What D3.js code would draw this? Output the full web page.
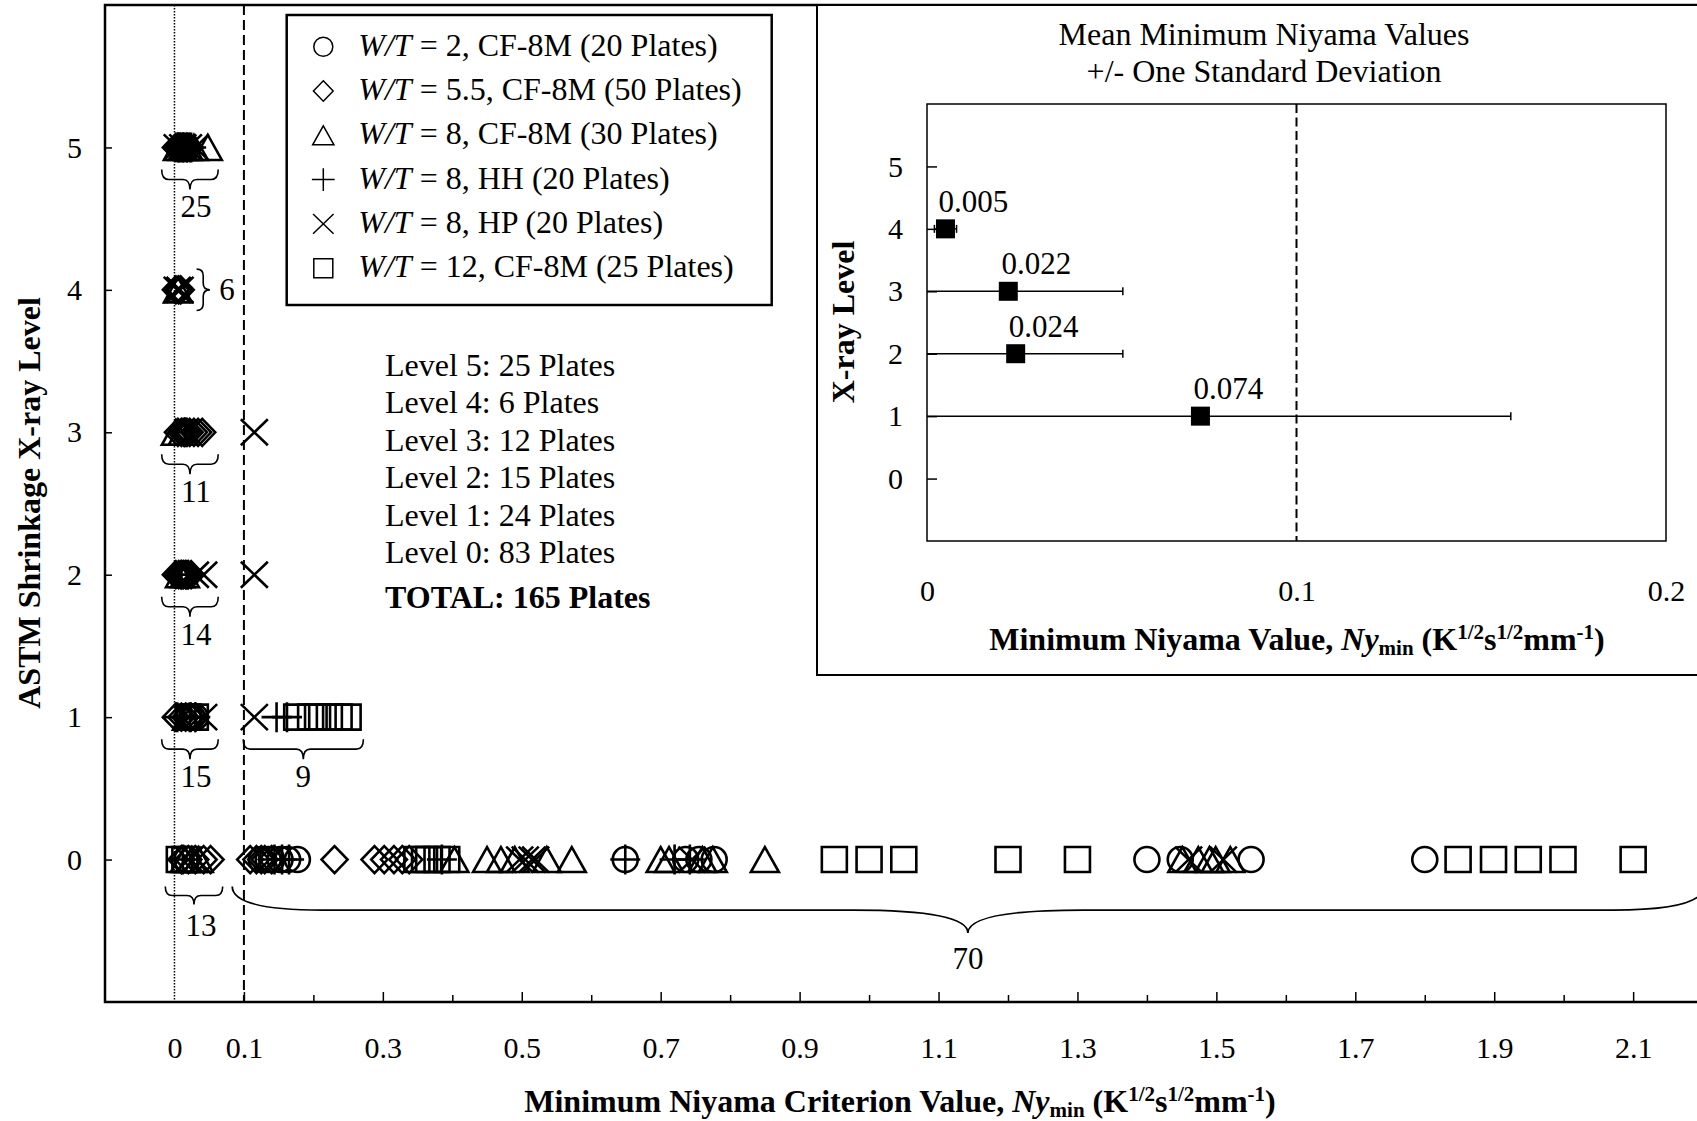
<!DOCTYPE html>
<html><head><meta charset="utf-8">
<script src="https://cdn.jsdelivr.net/npm/d3@7"></script>
<style>
body{margin:0;background:#fff;}
svg{display:block;}
text{font-family:"Liberation Serif","Times New Roman",serif;fill:#000;}
</style>
</head><body>
<svg id="chart" width="1697" height="1121"></svg>
<script>
// ---------------- DATA ----------------
// each point: [minimum Niyama value, ASTM X-ray level]
const wt2_CF8M = [ // circles (20)
  [0.012,5],[0.014,2],[0.02,1],[0.025,1],[0.03,1],
  [0.018,0],[0.125,0],[0.135,0],[0.14,0],[0.152,0],[0.163,0],[0.177,0],
  [0.649,0],[0.736,0],[0.755,0],[0.777,0],[1.40,0],[1.448,0],[1.55,0],[1.80,0]
];
const wt55_CF8M = [ // diamonds (50)
  [0.002,5],[0.004,5],[0.006,5],[0.008,5],[0.009,5],[0.011,5],[0.013,5],[0.015,5],[0.017,5],[0.019,5],[0.022,5],
  [0.002,4],[0.006,4],[0.009,4],
  [0.005,3],[0.01,3],[0.014,3],[0.018,3],[0.022,3],[0.028,3],[0.034,3],[0.04,3],
  [0.002,2],[0.006,2],[0.01,2],[0.013,2],[0.016,2],[0.02,2],[0.024,2],
  [0.002,1],[0.01,1],[0.016,1],[0.024,1],[0.03,1],
  [0.01,0],[0.02,0],[0.03,0],[0.042,0],[0.052,0],[0.109,0],[0.118,0],[0.125,0],[0.13,0],[0.14,0],
  [0.2305,0],[0.288,0],[0.302,0],[0.316,0],[0.328,0],[0.338,0]
];
const wt8_CF8M = [ // triangles (30)
  [0.005,5],[0.012,5],[0.02,5],[0.028,5],[0.048,5],
  [0.005,4],
  [0.002,3],[0.012,3],
  [0.008,2],[0.015,2],
  [0.018,1],
  [0.015,0],[0.025,0],[0.035,0],[0.403,0],[0.45,0],[0.47,0],[0.49,0],[0.536,0],[0.572,0],
  [0.70,0],[0.712,0],[0.76,0],[0.775,0],[0.85,0],[1.451,0],[1.474,0],[1.49,0],[1.499,0],[1.52,0]
];
const wt8_HH = [ // plus (20)
  [0.006,5],[0.012,5],[0.018,5],[0.024,5],
  [0.015,3],
  [0.01,2],[0.018,2],
  [0.004,1],[0.022,1],[0.03,1],[0.147,1],[0.162,1],
  [0.012,0],[0.144,0],[0.155,0],[0.165,0],[0.385,0],[0.649,0],[0.72,0],[0.742,0]
];
const wt8_HP = [ // x (20)
  [0.004,5],[0.012,5],[0.02,5],[0.03,5],
  [0.004,4],[0.008,4],
  [0.115,3],
  [0.03,2],[0.042,2],[0.115,2],
  [0.042,1],[0.115,1],
  [0.02,0],[0.497,0],[0.505,0],[0.515,0],[0.52,0],[0.745,0],[1.46,0],[1.51,0]
];
const wt12_CF8M = [ // squares (25)
  [0.02,1],[0.03,1],[0.176,1],[0.196,1],[0.206,1],[0.223,1],[0.237,1],[0.25,1],
  [0.007,0],[0.015,0],[0.349,0],[0.36,0],[0.366,0],[0.378,0],[0.392,0],
  [0.95,0],[1.0,0],[1.05,0],[1.2,0],[1.3,0],[1.848,0],[1.899,0],[1.949,0],[1.999,0],[2.1,0]
];
const seriesLegendValue = ["2","5.5","8","8","8","12"];
const seriesLegendAlloy = ["CF-8M","CF-8M","CF-8M","HH","HP","CF-8M"];
const seriesLegendPlates = [20,50,30,20,20,25];

const yLevelTicks = [0,1,2,3,4,5];
const xMajorTicks = [0.1,0.3,0.5,0.7,0.9,1.1,1.3,1.5,1.7,1.9,2.1];
const xMinorTicks = [0.2,0.4,0.6,0.8,1.0,1.2,1.4,1.6,1.8,2.0,2.2];
const xTickLabels = [0,0.1,0.3,0.5,0.7,0.9,1.1,1.3,1.5,1.7,1.9,2.1];

const summaryLevels = [5,4,3,2,1,0];
const summaryCounts = [25,6,12,15,24,83];
const summaryTotal = 165;

// group braces: [level, from, to, count]
const braceGroups = [[5,-0.0184,0.063,"25"],[3,-0.0184,0.063,"11"],[2,-0.0184,0.063,"14"],[1,-0.0184,0.063,"15"],[1,0.099,0.272,"9"]];
const braceLevel0Low = [0,-0.0132,0.0694,"13"];
const braceLevel0High = [0,0.0832,2.2015,"70"];
const braceLevel4 = [4,0.0319,"6"];

// inset
const insetLevels = [4,3,2,1];
const insetMeans = [0.005,0.022,0.024,0.074];
const insetStdDev = [0.003,0.031,0.029,0.084];
const insetXTicks = [0,0.1,0.2];
const insetYTicks = [0,1,2,3,4,5];

// ---------------- DRAW ----------------
const svg = d3.select("#chart");
const x = d3.scaleLinear().domain([-0.1,2.2]).range([105,1702.6]);
const y = d3.scaleLinear().domain([-1,6]).range([1002,5]);

function shapePath(shape, k){
  const s = k||1;
  switch(shape){
    case "square": {const h=12.5*s; return `M${-h},${-h}H${h}V${h}H${-h}Z`;}
    case "diamond": {const w=13*s,v=13.5*s; return `M0,${-v}L${w},0L0,${v}L${-w},0Z`;}
    case "triangle": {const w=14*s,t=12.5*s; return `M0,${-t}L${w},${t}L${-w},${t}Z`;}
    case "plus": {const a=15*s; return `M${-a},0H${a}M0,${-a}V${a}`;}
    case "x": {const a=13.5*s,b=13*s; return `M${-a},${-b}L${a},${b}M${-a},${b}L${a},${-b}`;}
    case "circle": {const r=12.5*s; return `M${r},0A${r},${r},0,1,1,${-r},0A${r},${r},0,1,1,${r},0Z`;}
  }
}
const shapes = ["circle","diamond","triangle","plus","x","square"];
const allSeries = [wt2_CF8M, wt55_CF8M, wt8_CF8M, wt8_HH, wt8_HP, wt12_CF8M];

// reference lines
svg.append("line").attr("x1",x(0)).attr("x2",x(0)).attr("y1",y(6)).attr("y2",y(-1))
  .attr("stroke","#000").attr("stroke-width",1.5).attr("stroke-dasharray","1.5,1.5");
svg.append("line").attr("x1",x(0.1)).attr("x2",x(0.1)).attr("y1",y(6)).attr("y2",y(-1))
  .attr("stroke","#000").attr("stroke-width",2).attr("stroke-dasharray","10,5");

// axes ticks
const gx1 = svg.append("g").attr("transform",`translate(0,${y(-1)})`)
  .call(d3.axisBottom(x).tickValues(xMajorTicks).tickSize(-10).tickFormat(""));
const gx2 = svg.append("g").attr("transform",`translate(0,${y(-1)})`)
  .call(d3.axisBottom(x).tickValues(xMinorTicks).tickSize(-7).tickFormat(""));
const gx3 = svg.append("g").attr("transform",`translate(0,${y(-1)})`)
  .call(d3.axisBottom(x).tickValues(xTickLabels).tickSize(0).tickPadding(35).tickFormat(d=>String(d)));
const gy = svg.append("g").attr("transform",`translate(${x(-0.1)},0)`)
  .call(d3.axisLeft(y).tickValues(yLevelTicks).tickSize(-7).tickPadding(23).tickFormat(d=>String(d)));
[gx1,gx2,gx3,gy].forEach(g=>{
  g.select(".domain").remove();
  g.selectAll("line").attr("stroke","#000").attr("stroke-width",1.5);
  g.attr("font-family",null).attr("font-size",30);
  g.selectAll("text").attr("fill","#000").attr("font-size",30);
});

// frame
svg.append("rect").attr("x",x(-0.1)).attr("y",y(6)).attr("width",x(2.2)-x(-0.1)).attr("height",y(-1)-y(6))
  .attr("fill","none").attr("stroke","#000").attr("stroke-width",2.5);

// markers
allSeries.forEach((data,i)=>{
  svg.append("g").selectAll("path").data(data).join("path")
    .attr("d",shapePath(shapes[i]))
    .attr("transform",d=>`translate(${x(d[0])},${y(d[1])})`)
    .attr("fill","none").attr("stroke","#000").attr("stroke-width",2.6)
    .attr("stroke-linejoin","miter");
});

// braces
function bracePath(x0,x1,yTop,yMid,yTip,rEnd,rTip){
  const xm=(x0+x1)/2;
  return `M${x0},${yTop}Q${x0},${yMid} ${x0+rEnd},${yMid}L${xm-rTip},${yMid}Q${xm},${yMid} ${xm},${yTip}`+
         `Q${xm},${yMid} ${xm+rTip},${yMid}L${x1-rEnd},${yMid}Q${x1},${yMid} ${x1},${yTop}`;
}
const braceG = svg.append("g");
braceGroups.forEach(b=>{
  const yl=y(b[0]), x0=x(b[1]), x1=x(b[2]);
  braceG.append("path").attr("d",bracePath(x0,x1,yl+22,yl+32,yl+42,7,7))
    .attr("fill","none").attr("stroke","#000").attr("stroke-width",1.6);
  braceG.append("text").attr("x",(x0+x1)/2+(b[1]<0?6:0)).attr("y",yl+70)
    .attr("text-anchor","middle").attr("font-size",31).text(b[3]);
});
{
  const b=braceLevel0Low, yl=y(b[0]), x0=x(b[1]), x1=x(b[2]);
  braceG.append("path").attr("d",bracePath(x0,x1,yl+27,yl+36,yl+45,7,7))
    .attr("fill","none").attr("stroke","#000").attr("stroke-width",1.6);
  braceG.append("text").attr("x",(x0+x1)/2+7).attr("y",yl+76.5)
    .attr("text-anchor","middle").attr("font-size",31).text(b[3]);
}
{
  const b=braceLevel0High, yl=y(b[0]), x0=x(b[1]), x1=x(b[2]);
  braceG.append("path").attr("d",bracePath(x0,x1,yl+27,yl+50.5,yl+73.5,90,115))
    .attr("fill","none").attr("stroke","#000").attr("stroke-width",1.8);
  braceG.append("text").attr("x",(x0+x1)/2).attr("y",yl+109.5)
    .attr("text-anchor","middle").attr("font-size",31).text(b[3]);
}
{
  const b=braceLevel4, yl=y(b[0]), xe=x(b[1]), xc=xe+6.6, xt=xe+13.3, h=20.7, r=6.5;
  const p=`M${xe},${yl-h}Q${xc},${yl-h} ${xc},${yl-h+r}L${xc},${yl-r}Q${xc},${yl} ${xt},${yl}`+
          `Q${xc},${yl} ${xc},${yl+r}L${xc},${yl+h-r}Q${xc},${yl+h} ${xe},${yl+h}`;
  braceG.append("path").attr("d",p).attr("fill","none").attr("stroke","#000").attr("stroke-width",1.6);
  braceG.append("text").attr("x",xt+17).attr("y",yl+10.5).attr("text-anchor","middle").attr("font-size",31).text(b[2]);
}

// axis titles
function nyTitle(g,cx,cy,size,head){
  const small=Math.round(size*0.66);
  const t=g.append("text").attr("x",cx).attr("y",cy).attr("text-anchor","middle")
    .attr("font-weight","bold").attr("font-size",size);
  t.append("tspan").text(head);
  t.append("tspan").attr("font-style","italic").text("Ny");
  t.append("tspan").attr("font-size",small).attr("dy",5).text("min");
  t.append("tspan").attr("dy",-5).text(" (K");
  t.append("tspan").attr("font-size",small).attr("dy",-11).text("1/2");
  t.append("tspan").attr("dy",11).text("s");
  t.append("tspan").attr("font-size",small).attr("dy",-11).text("1/2");
  t.append("tspan").attr("dy",11).text("mm");
  t.append("tspan").attr("font-size",small).attr("dy",-11).text("-1");
  t.append("tspan").attr("dy",11).text(")");
}
nyTitle(svg,900,1112,32,"Minimum Niyama Criterion Value, ");
svg.append("text").attr("transform","translate(40,503) rotate(-90)").attr("text-anchor","middle")
  .attr("font-weight","bold").attr("font-size",32).text("ASTM Shrinkage X-ray Level");

// legend
const lg = svg.append("g");
lg.append("rect").attr("x",286.7).attr("y",15).attr("width",485).attr("height",290)
  .attr("fill","#fff").attr("stroke","#000").attr("stroke-width",2.5);
shapes.forEach((s,i)=>{
  const cy=46.7+i*44.3;
  lg.append("path").attr("d",shapePath(s,0.76)).attr("transform",`translate(323.3,${cy})`)
    .attr("fill","none").attr("stroke","#000").attr("stroke-width",1.5);
  const t=lg.append("text").attr("x",358.3).attr("y",cy+9).attr("font-size",32);
  t.append("tspan").attr("font-style","italic").text("W/T");
  t.append("tspan").text(` = ${seriesLegendValue[i]}, ${seriesLegendAlloy[i]} (${seriesLegendPlates[i]} Plates)`);
});

// level summary
summaryLevels.forEach((lv,i)=>{
  svg.append("text").attr("x",385).attr("y",376+i*37.4).attr("font-size",32)
    .text(`Level ${lv}: ${summaryCounts[i]} Plates`);
});
svg.append("text").attr("x",385).attr("y",608).attr("font-size",32).attr("font-weight","bold")
  .text(`TOTAL: ${summaryTotal} Plates`);

// ---------------- INSET ----------------
const ig = svg.append("g");
ig.append("rect").attr("x",817).attr("y",5).attr("width",900).attr("height",670)
  .attr("fill","#fff").attr("stroke","#000").attr("stroke-width",2);
const xi = d3.scaleLinear().domain([0,0.2]).range([927,1666]);
const yi = d3.scaleLinear().domain([-1,6]).range([541,104]);
ig.append("text").attr("x",1264).attr("y",45).attr("text-anchor","middle").attr("font-size",32).text("Mean Minimum Niyama Values");
ig.append("text").attr("x",1264).attr("y",82).attr("text-anchor","middle").attr("font-size",32).text("+/- One Standard Deviation");
ig.append("line").attr("x1",xi(0.1)).attr("x2",xi(0.1)).attr("y1",yi(6)).attr("y2",yi(-1))
  .attr("stroke","#000").attr("stroke-width",2).attr("stroke-dasharray","9,4.5");
const giy = ig.append("g").attr("transform",`translate(${xi(0)},0)`)
  .call(d3.axisLeft(yi).tickValues(insetYTicks).tickSize(-10).tickPadding(24).tickFormat(d=>String(d)));
const gix = ig.append("g").attr("transform",`translate(0,${yi(-1)})`)
  .call(d3.axisBottom(xi).tickValues(insetXTicks).tickSize(0).tickPadding(39).tickFormat(d=>String(d)));
[giy,gix].forEach(g=>{
  g.select(".domain").remove();
  g.selectAll("line").attr("stroke","#000").attr("stroke-width",1.5);
  g.attr("font-family",null).attr("font-size",30);
  g.selectAll("text").attr("fill","#000").attr("font-size",30);
});
ig.append("rect").attr("x",xi(0)).attr("y",yi(6)).attr("width",xi(0.2)-xi(0)).attr("height",yi(-1)-yi(6))
  .attr("fill","none").attr("stroke","#000").attr("stroke-width",1.5);
insetLevels.forEach((lv,i)=>{
  const m=insetMeans[i], sd=insetStdDev[i], cy=yi(lv);
  const lo=Math.max(0,m-sd), hi=m+sd;
  ig.append("line").attr("x1",xi(lo)).attr("x2",xi(hi)).attr("y1",cy).attr("y2",cy).attr("stroke","#000").attr("stroke-width",1.5);
  if(m-sd>=0) ig.append("line").attr("x1",xi(lo)).attr("x2",xi(lo)).attr("y1",cy-4).attr("y2",cy+4).attr("stroke","#000").attr("stroke-width",1.5);
  ig.append("line").attr("x1",xi(hi)).attr("x2",xi(hi)).attr("y1",cy-4).attr("y2",cy+4).attr("stroke","#000").attr("stroke-width",1.5);
  ig.append("rect").attr("x",xi(m)-9.5).attr("y",cy-9.5).attr("width",19).attr("height",19).attr("fill","#000");
  ig.append("text").attr("x",xi(m)+28).attr("y",cy-17).attr("text-anchor","middle").attr("font-size",31).text(m.toFixed(3));
});
ig.append("text").attr("transform","translate(854,322) rotate(-90)").attr("text-anchor","middle")
  .attr("font-weight","bold").attr("font-size",32).text("X-ray Level");
nyTitle(ig,1297,650,32,"Minimum Niyama Value, ");
</script>
</body></html>
